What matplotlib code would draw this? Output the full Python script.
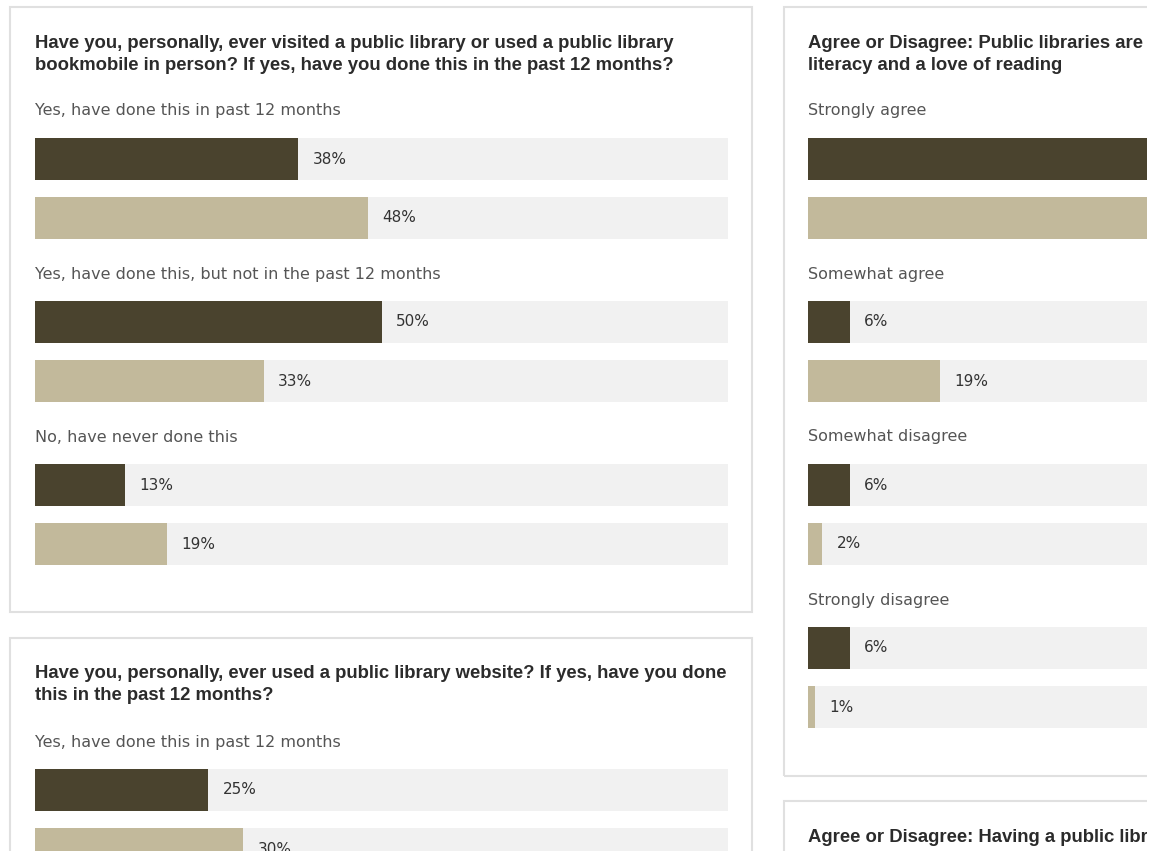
import matplotlib.pyplot as plt
from matplotlib.patches import Rectangle

# colours of the page
DARK = '#4a432e'
LIGHT = '#c2b99b'
TRACK = '#f1f1f1'
BORDER = '#e0e0e0'
TITLE_COLOR = '#2b2b2b'
LABEL_COLOR = '#555555'
VALUE_COLOR = '#333333'

W, H = 1151, 851

# data
visited_title = ["Have you, personally, ever visited a public library or used a public library",
                 "bookmobile in person? If yes, have you done this in the past 12 months?"]
visited_labels = ["Yes, have done this in past 12 months",
                  "Yes, have done this, but not in the past 12 months",
                  "No, have never done this"]
visited_dark = [38, 50, 13]
visited_light = [48, 33, 19]

website_title = ["Have you, personally, ever used a public library website? If yes, have you done",
                 "this in the past 12 months?"]
website_labels = ["Yes, have done this in past 12 months"]
website_dark = [25]
website_light = [30]

# the right column is cut by the screenshot edge
literacy_title = ["Agree or Disagree: Public libraries are",
                  "literacy and a love of reading"]
literacy_labels = ["Strongly agree", "Somewhat agree", "Somewhat disagree", "Strongly disagree"]
literacy_dark = [82, 6, 6, 6]
literacy_light = [78, 19, 2, 1]

quality_title = ["Agree or Disagree: Having a public libr"]

plt.rcParams['font.family'] = ['DejaVu Sans']
TITLE_FONT = ['Liberation Sans', 'DejaVu Sans']

fig = plt.figure(figsize=(W / 100, H / 100), dpi=100)
fig.patch.set_facecolor('white')


def box(x0, y0, x1, y1):
    # panel frame, in page pixels
    fig.patches.append(Rectangle((x0 / W, 1 - y1 / H), (x1 - x0) / W, (y1 - y0) / H,
                                 transform=fig.transFigure, fill=False,
                                 edgecolor=BORDER, linewidth=1.5, zorder=1))


def panel(top, bottom, left, title, labels, dark, light):
    # axes spans the bar track (0..100 %) horizontally and the panel vertically
    ax = fig.add_axes([left / W, 1 - bottom / H, 693 / W, (bottom - top) / H])
    ax.set_xlim(0, 100)
    ax.set_ylim(bottom, top)
    ax.axis('off')

    for i, line in enumerate(title):
        ax.text(0, top + 36 + 22 * i, line, fontsize=13.3, fontweight='bold',
                family=TITLE_FONT, color=TITLE_COLOR, va='center', ha='left', clip_on=False)

    for i, lab in enumerate(labels):
        ly = top + 104 + 163 * i
        ax.text(0, ly, lab, fontsize=11.5, color=LABEL_COLOR, va='center', ha='left')
        for val, col, dy in ((dark[i], DARK, 48), (light[i], LIGHT, 107)):
            y = ly + dy
            ax.barh(y, 100, height=42, color=TRACK, left=0)
            ax.barh(y, val, height=42, color=col, left=0)
            ax.annotate(f"{val}%", (val, y), xytext=(10.5, 0), textcoords='offset points',
                        fontsize=11, color=VALUE_COLOR, va='center', ha='left')
    return ax


box(10, 7, 752, 612)
panel(7, 612, 35, visited_title, visited_labels, visited_dark, visited_light)

box(10, 638, 752, 870)
panel(638, 851, 35, website_title, website_labels, website_dark, website_light)

box(784, 7, 1200, 776)
panel(7, 776, 808, literacy_title, literacy_labels, literacy_dark, literacy_light)

box(784, 801, 1200, 900)
panel(801, 851, 808, quality_title, [], [], [])

# the screenshot ends a few pixels before the right edge
fig.patches.append(Rectangle((1147 / W, 0), 4 / W, 1, transform=fig.transFigure,
                             facecolor='white', edgecolor='none', zorder=10))

fig.savefig('out.png', dpi=100)
